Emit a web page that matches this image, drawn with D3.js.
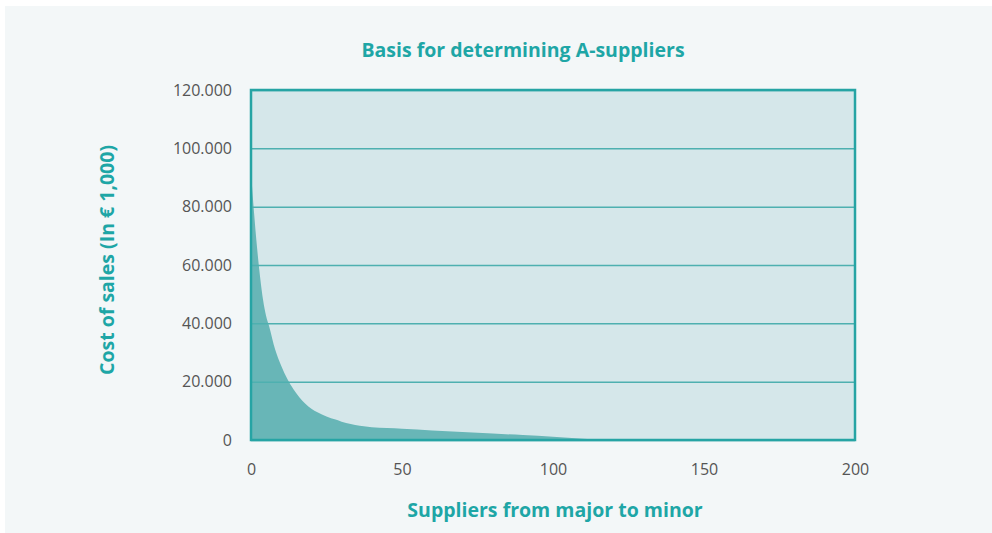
<!DOCTYPE html>
<html><head><meta charset="utf-8">
<script src="https://cdn.jsdelivr.net/npm/d3@7"></script>
<style>
html,body{margin:0;padding:0;background:#fff;}
svg{display:block;}
</style></head>
<body>
<svg id="chart" width="992" height="533"></svg>
<script>
// Data
const supplierRank = [0, 1, 2, 3, 4, 5, 6, 8, 10, 12, 14, 16, 18, 20, 22, 25, 28, 30, 33, 36, 40, 45, 50, 60, 70, 80, 90, 100, 110, 118];
const costOfSales  = [92000, 78000, 66000, 56000, 48000, 42500, 39000, 31000, 25500, 21000, 17500, 14700, 12400, 10700, 9500, 8100, 7000, 6300, 5450, 4850, 4400, 4100, 3900, 3300, 2750, 2200, 1700, 1150, 450, 0];
const xTicks = [0, 50, 100, 150, 200];
const yTicks = [0, 20000, 40000, 60000, 80000, 100000, 120000];
const titleText = "Basis for determining A-suppliers";
const xLabel = "Suppliers from major to minor";
const yLabel = "Cost of sales (In € 1,000)";

const data = supplierRank.map((r, i) => ({x: r, y: costOfSales[i]}));

const svg = d3.select("#chart");
const font = "'Open Sans', sans-serif";
const teal = "#1ea6a6";

svg.append("rect").attr("x", 5).attr("y", 6).attr("width", 987).attr("height", 527).attr("fill", "#f3f7f8");

const m = {left: 251, top: 90, right: 855, bottom: 440};
const x = d3.scaleLinear().domain([0, 200]).range([m.left, m.right]);
const y = d3.scaleLinear().domain([0, 120000]).range([m.bottom, m.top]);

const loc = d3.formatLocale({decimal: ",", thousands: ".", grouping: [3], currency: ["", "€"]});
const yFmt = d => d === 0 ? "0" : loc.format(",")(d / 1000) + ".000";

// plot background
svg.append("rect").attr("x", m.left).attr("y", m.top)
  .attr("width", m.right - m.left).attr("height", m.bottom - m.top)
  .attr("fill", "#d5e7ea");

// area
const area = d3.area().x(d => x(d.x)).y0(y(0)).y1(d => y(d.y)).curve(d3.curveMonotoneX);
svg.append("path").datum(data).attr("d", area).attr("fill", "#68b6b7");

// gridlines + y axis
const yAxis = d3.axisLeft(y).tickValues(yTicks).tickSize(-(m.right - m.left)).tickFormat(yFmt).tickPadding(19);
const gy = svg.append("g").attr("transform", `translate(${m.left},0)`).call(yAxis);
gy.select(".domain").remove();
gy.selectAll(".tick line").attr("stroke", "#4eb0b0").attr("stroke-width", 1.5);
gy.selectAll(".tick text").attr("fill", "#555").attr("font-family", font).attr("font-size", 16);

const xAxis = d3.axisBottom(x).tickValues(xTicks).tickSize(0).tickPadding(24);
const gx = svg.append("g").attr("transform", `translate(0,${m.bottom})`).call(xAxis);
gx.select(".domain").remove();
gx.selectAll(".tick text").attr("fill", "#555").attr("font-family", font).attr("font-size", 16);

// border
svg.append("rect").attr("x", m.left).attr("y", m.top)
  .attr("width", m.right - m.left).attr("height", m.bottom - m.top)
  .attr("fill", "none").attr("stroke", "#26a4a4").attr("stroke-width", 2.5);

// title and labels
svg.append("text").attr("x", 523).attr("y", 57).attr("text-anchor", "middle")
  .attr("font-family", font).attr("font-weight", "bold").attr("font-size", 19.5)
  .attr("fill", teal).text(titleText);
svg.append("text").attr("x", 555).attr("y", 517).attr("text-anchor", "middle")
  .attr("font-family", font).attr("font-weight", "bold").attr("font-size", 19.5)
  .attr("fill", teal).text(xLabel);
svg.append("text").attr("transform", "translate(114,260) rotate(-90)").attr("text-anchor", "middle")
  .attr("font-family", font).attr("font-weight", "bold").attr("font-size", 19.5)
  .attr("fill", teal).text(yLabel);
</script>
</body></html>
